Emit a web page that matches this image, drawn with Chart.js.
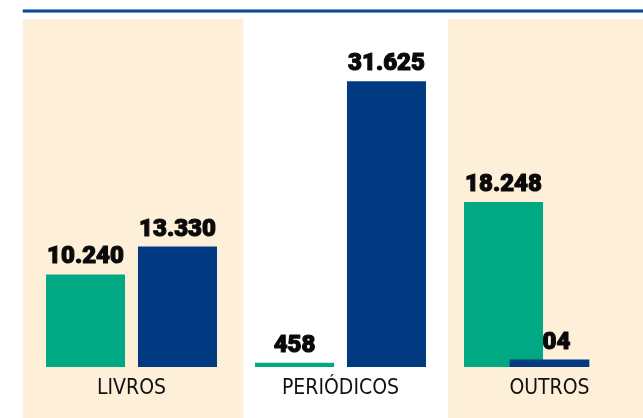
<!DOCTYPE html>
<html><head><meta charset="utf-8">
<script src="https://cdn.jsdelivr.net/npm/chart.js@4/dist/chart.umd.min.js"></script>
<style>
html,body{margin:0;padding:0;background:#fff;overflow:hidden;width:643px;height:418px}
#wrap{width:660px;height:418px}
</style></head><body>
<div id="wrap"><canvas id="c" width="660" height="418"></canvas></div>
<script>
const categories = ['LIVROS', 'PERIÓDICOS', 'OUTROS'];
const greenValues = [10240, 458, 18248];
const blueValues = [13330, 31625, 804];
const yMax = 38500;

const GREEN = '#00a884';
const BLUE = '#013a80';
const BAND = '#feefd8';

function fmt(v) { return String(v).replace(/\B(?=(\d{3})+(?!\d))/g, '.'); }

const bandPlugin = {
  id: 'bands',
  beforeDraw(chart) {
    const { ctx, chartArea, scales: { x } } = chart;
    const w = x.getPixelForValue(1) - x.getPixelForValue(0);
    ctx.save();
    ctx.fillStyle = BAND;
    const c0 = x.getPixelForValue(0);
    ctx.fillRect(c0 - 0.52 * w, chartArea.top, 1.055 * w, chart.height - chartArea.top);
    const c2 = x.getPixelForValue(2);
    ctx.fillRect(c2 - 0.485 * w, chartArea.top, 1.2 * w, chart.height - chartArea.top);
    ctx.fillStyle = '#6f97c4';
    ctx.fillRect(c0 - 0.52 * w, 9, chart.width, 4);
    ctx.fillStyle = '#0b4c93';
    ctx.fillRect(c0 - 0.52 * w, 10, chart.width, 2);
    ctx.restore();
  }
};

const labelPlugin = {
  id: 'valueLabels',
  beforeDatasetsDraw(chart) {
    const ctx = chart.ctx;
    ctx.save();
    ctx.fillStyle = '#0a0a0a';
    ctx.strokeStyle = '#0a0a0a';
    ctx.lineWidth = 1.1;
    ctx.lineJoin = 'round';
    ctx.textAlign = 'center';
    ctx.textBaseline = 'alphabetic';
    ctx.font = '900 24px Roboto, "Liberation Sans", sans-serif';
    chart.data.datasets.forEach((ds, di) => {
      const meta = chart.getDatasetMeta(di);
      meta.data.forEach((el, i) => {
        const v = ds.data[i];
        if (v == null) return;
        ctx.fillText(fmt(v), el.x, el.y - 11);
        ctx.strokeText(fmt(v), el.x, el.y - 11);
      });
    });
    ctx.restore();
  }
};

new Chart(document.getElementById('c'), {
  type: 'bar',
  data: {
    labels: categories,
    datasets: [
      {
        label: 'verde',
        data: greenValues,
        backgroundColor: GREEN,
        order: 1,
        categoryPercentage: 0.88,
        barPercentage: 0.859
      },
      {
        label: 'azul',
        data: blueValues.map((v, i) => i < 2 ? v : null),
        backgroundColor: BLUE,
        order: 1,
        categoryPercentage: 0.88,
        barPercentage: 0.859
      },
      {
        label: 'azul outros',
        data: blueValues.map((v, i) => i === 2 ? v : null),
        backgroundColor: BLUE,
        order: 0,
        grouped: false,
        barThickness: 79
      }
    ]
  },
  options: {
    responsive: false,
    animation: false,
    events: [],
    layout: { padding: { left: 27, right: 6, top: 19, bottom: 0 } },
    plugins: { legend: { display: false }, tooltip: { enabled: false } },
    scales: {
      x: {
        type: 'category',
        grid: { display: false, drawTicks: false },
        border: { display: false },
        afterFit(scale) { scale.height = 51; },
        ticks: {
          color: '#111',
          padding: 9,
          font: { family: '"Liberation Sans Narrow", "DejaVu Sans Condensed", sans-serif', size: 21 }
        }
      },
      y: {
        display: false,
        min: 0,
        max: yMax
      }
    }
  },
  plugins: [bandPlugin, labelPlugin]
});
</script>
</body></html>
